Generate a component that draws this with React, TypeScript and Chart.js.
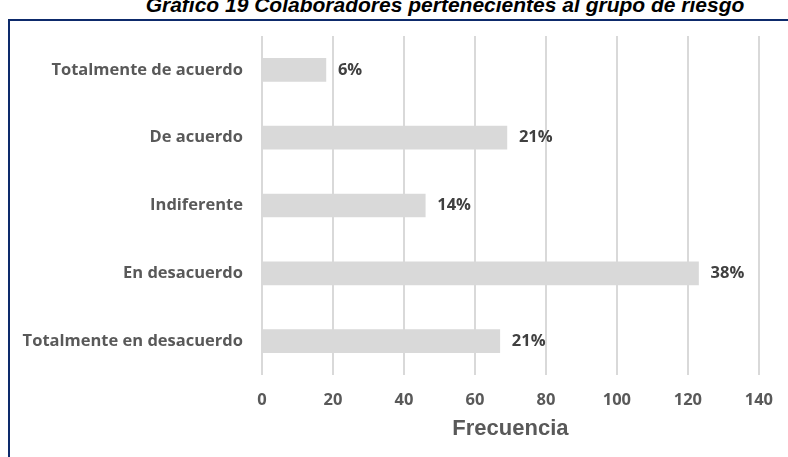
import React, { useEffect, useRef } from "react";
import { Chart, registerables } from "chart.js";

Chart.register(...registerables);

const categories = [
  "Totalmente de acuerdo",
  "De acuerdo",
  "Indiferente",
  "En desacuerdo",
  "Totalmente en desacuerdo",
];
const frequencies = [18, 69, 46, 123, 67];
const percentLabels = ["6%", "21%", "14%", "38%", "21%"];
const xTicks = [0, 20, 40, 60, 80, 100, 120, 140];
const chartTitle = "Gráfico 19 Colaboradores pertenecientes al grupo de riesgo";
const axisTitle = "Frecuencia";

const LABEL_FONT = "'Open Sans', 'DejaVu Sans', sans-serif";

const valueLabelPlugin = {
  id: "valueLabels",
  afterDatasetsDraw(chart: any) {
    const ctx = chart.ctx;
    const meta = chart.getDatasetMeta(0);
    ctx.save();
    ctx.font = `bold 16.5px ${LABEL_FONT}`;
    ctx.fillStyle = "#404040";
    ctx.textAlign = "left";
    ctx.textBaseline = "middle";
    meta.data.forEach((bar: any, i: number) => {
      ctx.fillText(percentLabels[i], bar.x + 12, bar.y);
    });
    ctx.restore();
  },
};

export default function App() {
  const canvasRef = useRef<HTMLCanvasElement | null>(null);

  useEffect(() => {
    if (!canvasRef.current) return;
    const chart = new Chart(canvasRef.current, {
      type: "bar",
      data: {
        labels: categories,
        datasets: [
          {
            data: frequencies,
            backgroundColor: "#d9d9d9",
            borderWidth: 0,
            barThickness: 23,
          },
        ],
      },
      options: {
        indexAxis: "y",
        responsive: false,
        animation: false,
        maintainAspectRatio: false,
        layout: { padding: { top: 36, right: 27, left: 0, bottom: 0 } },
        plugins: {
          legend: { display: false },
          tooltip: { enabled: false },
          title: { display: false },
        },
        scales: {
          x: {
            min: 0,
            max: 140,
            afterBuildTicks(scale: any) {
              scale.ticks = xTicks.map((v) => ({ value: v }));
            },
            afterFit(scale: any) {
              scale.height = 82;
            },
            grid: {
              color: "#d9d9d9",
              lineWidth: 2,
              drawTicks: false,
            },
            border: { display: false },
            ticks: {
              padding: 15,
              color: "#595959",
              font: { family: LABEL_FONT, size: 16.5, weight: "bold" },
            },
            title: {
              display: true,
              text: axisTitle,
              color: "#595959",
              font: { family: "'Liberation Sans', Arial, sans-serif", size: 22, weight: "bold" },
              padding: { top: 0, bottom: 15 },
            },
          },
          y: {
            afterFit(scale: any) {
              scale.width = 262;
            },
            grid: { display: false, drawTicks: false },
            border: { display: false },
            ticks: {
              padding: 19,
              color: "#595959",
              font: { family: LABEL_FONT, size: 16.5, weight: "bold" },
            },
          },
        },
      },
      plugins: [valueLabelPlugin],
    });
    (document as any).fonts?.load?.(`bold 17px "Open Sans"`).then(() => chart.update()).catch(() => {});
    return () => chart.destroy();
  }, []);

  return (
    <div
      style={{
        position: "absolute",
        left: 0,
        top: 0,
        width: 788,
        height: 457,
        overflow: "hidden",
        background: "#ffffff",
      }}
    >
      <div
        style={{
          position: "absolute",
          left: 8,
          top: 19,
          width: 820,
          height: 500,
          border: "2px solid #0d2a6b",
          boxSizing: "border-box",
        }}
      />
      <div
        style={{
          position: "absolute",
          left: 145,
          width: 600,
          top: -8,
          textAlign: "center",
          fontFamily: "'Liberation Sans', Arial, sans-serif",
          fontWeight: "bold",
          fontStyle: "italic",
          fontSize: 21,
          lineHeight: "26px",
          color: "#000000",
          whiteSpace: "nowrap",
        }}
      >
        {chartTitle}
      </div>
      <canvas
        ref={canvasRef}
        width={788}
        height={457}
        style={{ position: "absolute", left: 0, top: 0, width: 788, height: 457 }}
      />
    </div>
  );
}
